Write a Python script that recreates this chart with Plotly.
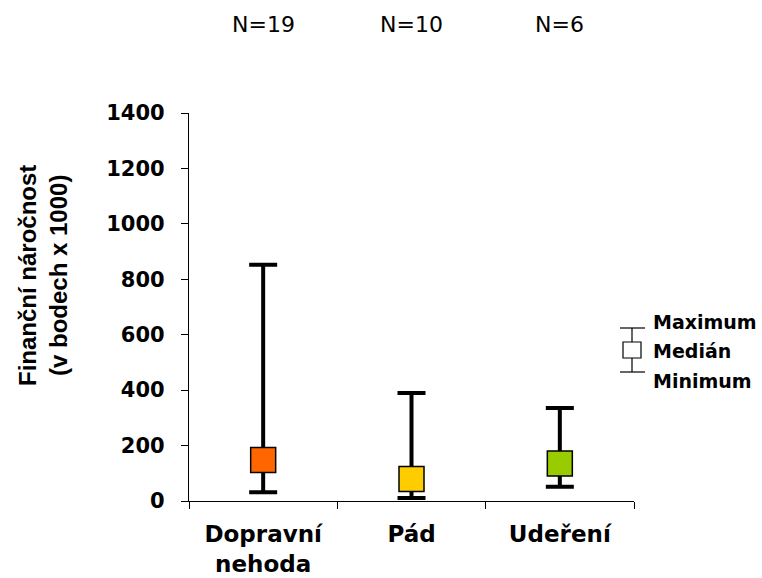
import plotly.graph_objects as go

categories = ["Dopravní<br>nehoda", "Pád", "Udeření"]
n_labels = ["N=19", "N=10", "N=6"]
maximum = [852, 390, 336]
median = [148, 79, 135]
minimum = [32, 11, 51]
colors = ["#FF6600", "#FFCC00", "#99CC00"]
y_ticks = [0, 200, 400, 600, 800, 1000, 1200, 1400]
legend_labels = ["Maximum", "Medián", "Minimum"]

W, H = 762, 578
L, R, T, B = 189, 128, 113, 77
pw, ph = W - L - R, H - T - B

def px(x):
    return (x - L) / pw

def py(y):
    return (H - B - y) / ph

fig = go.Figure()
for i, cat in enumerate(categories):
    fig.add_trace(go.Scatter(
        x=[cat], y=[median[i]], mode="markers",
        marker=dict(symbol="square", size=25, color=colors[i],
                    line=dict(color="black", width=1.5)),
        error_y=dict(type="data", symmetric=False,
                     array=[maximum[i] - median[i]],
                     arrayminus=[median[i] - minimum[i]],
                     color="black", thickness=4, width=14),
        showlegend=False,
    ))

annotations = []
for i, cat in enumerate(categories):
    annotations.append(dict(x=cat, y=py(25), xref="x", yref="paper",
                            text=n_labels[i], showarrow=False,
                            font=dict(family="DejaVu Sans", size=22, color="black"),
                            yanchor="middle"))

annotations.append(dict(x=px(43), y=py(276), xref="paper", yref="paper",
                        text="<b>Finanční náročnost<br>(v bodech x 1000)</b>",
                        textangle=-90, showarrow=False,
                        font=dict(family="Liberation Sans", size=24, color="black"),
                        xanchor="center", yanchor="middle"))

for lab, yy in zip(legend_labels, [322, 351, 381]):
    annotations.append(dict(x=px(651), y=py(yy), xref="paper", yref="paper",
                            text="<b>" + lab + "</b>", showarrow=False,
                            xanchor="left", yanchor="middle",
                            font=dict(family="DejaVu Sans", size=19, color="black")))

shapes = [
    dict(type="line", xref="paper", yref="paper", x0=px(632), x1=px(632), y0=py(328), y1=py(372),
         line=dict(color="black", width=1.2)),
    dict(type="line", xref="paper", yref="paper", x0=px(620), x1=px(645), y0=py(328), y1=py(328),
         line=dict(color="black", width=1.2)),
    dict(type="line", xref="paper", yref="paper", x0=px(620), x1=px(645), y0=py(372), y1=py(372),
         line=dict(color="black", width=1.2)),
    dict(type="rect", xref="paper", yref="paper", x0=px(623), x1=px(641), y0=py(342), y1=py(358),
         line=dict(color="black", width=1.2), fillcolor="white"),
]

fig.update_layout(
    width=W, height=H,
    margin=dict(l=L, r=R, t=T, b=B, autoexpand=False),
    paper_bgcolor="white", plot_bgcolor="white",
    annotations=annotations, shapes=shapes,
    xaxis=dict(type="category", categoryorder="array", categoryarray=categories,
               range=[-0.5, 2.5], tickson="boundaries", ticks="outside", ticklen=7,
               tickcolor="black", tickwidth=1.2,
               showline=True, linecolor="black", linewidth=1.2, showgrid=False,
               ticklabelstandoff=12,
               tickfont=dict(family="DejaVu Sans", size=23, color="black", weight="bold")),
    yaxis=dict(range=[0, 1400], tickvals=y_ticks, ticks="outside", ticklen=7,
               tickcolor="black", tickwidth=1.2,
               showline=True, linecolor="black", linewidth=1.2, showgrid=False,
               zeroline=False, ticklabelstandoff=12,
               tickfont=dict(family="DejaVu Sans", size=21, color="black", weight="bold")),
)

fig.write_html("out.html", config={"displayModeBar": False},
               post_script="document.body.style.margin='0';")
